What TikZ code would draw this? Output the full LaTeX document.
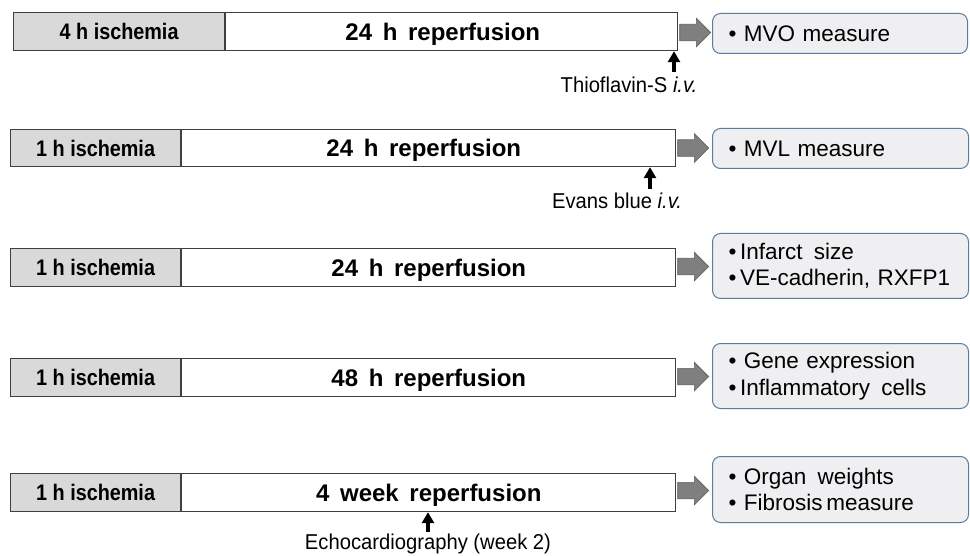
\documentclass[tikz,border=0pt]{standalone}
\usepackage{fontspec}
\setmainfont{Liberation Sans}
\newfontfamily\condsans[FakeStretch=0.88]{Liberation Sans}
\newfontfamily\labsans[FakeStretch=0.94]{Liberation Sans}
\usetikzlibrary{shapes.arrows,arrows.meta,calc}
\definecolor{barline}{HTML}{3F3F3F}
\definecolor{ischfill}{HTML}{D9D9D9}
\definecolor{boxline}{HTML}{5A7D9E}
\definecolor{boxfill}{HTML}{EFEFF1}
\definecolor{arrfill}{HTML}{7F7F7F}
\definecolor{arrline}{HTML}{5F5F5F}
\tikzset{
  barbase/.style={draw=barline, line width=1.2pt, minimum height=38pt, inner sep=0pt,
    anchor=north west, text depth=0pt},
  isch/.style={barbase, fill=ischfill, text height=16.2pt, font=\condsans\bfseries\fontsize{22.5}{24}\selectfont},
  reper/.style={barbase, fill=white, text height=17.2pt, font=\bfseries\fontsize{24}{26}\selectfont},
  result/.style={draw=boxline, fill=boxfill, line width=1pt, rounded corners=8pt, anchor=north west,
    inner xsep=16pt, inner ysep=0pt, align=left, font=\fontsize{22.5}{26.5}\selectfont},
  oneline/.style={text height=16.2pt, text depth=0pt},
  bigarrow/.style={single arrow, fill=arrfill, draw=arrline, line width=0.6pt, minimum height=31pt,
    inner sep=8pt, single arrow head extend=6pt, anchor=west},
  uparrow/.style={line width=3.3pt, -{Triangle[length=11pt,width=12pt]}},
  note/.style={font=\labsans\fontsize{21.5}{24}\selectfont, inner sep=0pt}
}
\begin{document}
\begin{tikzpicture}[x=1pt,y=-1pt]
\useasboundingbox (0,0) rectangle (970,556);

% Row 1
\node[isch, minimum width=211pt] (i1) at (13,12) {4 h ischemia};
\node[reper, minimum width=452pt] (r1) at (i1.north east) {24\,\ h\,\ reperfusion\hspace*{18pt}};
\node[bigarrow] (a1) at ($(r1.east)+(1,1)$) {};
\node[result, oneline, minimum width=255pt, minimum height=40pt, text width=223pt] (b1) at (712,13) {\textbullet\ MVO measure};
\coordinate (t1) at (674,72);
\draw[uparrow] (t1) -- (t1 |- r1.south);
\node[note, anchor=north] (n1) at (629,77) {Thioflavin-S \textit{i.v.}};

% Row 2
\node[isch, minimum width=170pt, minimum height=37pt] (i2) at (10,129) {1 h ischemia};
\node[reper, minimum width=494pt, minimum height=37pt] (r2) at (i2.north east) {24\,\ h\,\ reperfusion\hspace*{10pt}};
\node[bigarrow] (a2) at ($(r2.east)+(1,0)$) {};
\node[result, oneline, minimum width=256pt, minimum height=40pt, text width=224pt] (b2) at (712,128) {\textbullet\ MVL measure};
\coordinate (t2) at (650,189);
\draw[uparrow] (t2) -- (t2 |- r2.south);
\node[note, anchor=north] (n2) at (617,193) {Evans blue \textit{i.v.}};

% Row 3
\node[isch, minimum width=170pt] (i3) at (10,248) {1 h ischemia};
\node[reper, minimum width=494pt] (r3) at (i3.north east) {24\,\ h\,\ reperfusion};
\node[bigarrow] (a3) at ($(r3.east)+(1,-1)$) {};
\node[result, minimum width=256pt, minimum height=65pt, text width=224pt] (b3) at (712,233) {\textbullet\,Infarct\,\ size\\\textbullet\,VE-cadherin, RXFP1};

% Row 4
\node[isch, minimum width=170pt] (i4) at (10,358) {1 h ischemia};
\node[reper, minimum width=494pt] (r4) at (i4.north east) {48\,\ h\,\ reperfusion};
\node[bigarrow] (a4) at ($(r4.east)+(1,-1)$) {};
\node[result, minimum width=256pt, minimum height=65pt, text width=224pt] (b4) at (712,343) {\textbullet\ Gene expression\\\textbullet\,Inflammatory\,\ cells};

% Row 5
\node[isch, minimum width=170pt] (i5) at (10,473) {1 h ischemia};
\node[reper, minimum width=494pt] (r5) at (i5.north east) {4\,\ week\,\ reperfusion};
\node[bigarrow] (a5) at ($(r5.east)+(1,-2)$) {};
\node[result, minimum width=256pt, minimum height=66pt, text width=224pt] (b5) at (712,456) {\textbullet\ Organ\,\ weights\\\textbullet\ Fibrosis\,measure};
\coordinate (t5) at (428,532);
\draw[uparrow] (t5) -- (t5 |- r5.south);
\node[note, anchor=north] (n5) at (428,534) {Echocardiography (week 2)};
\end{tikzpicture}
\end{document}
